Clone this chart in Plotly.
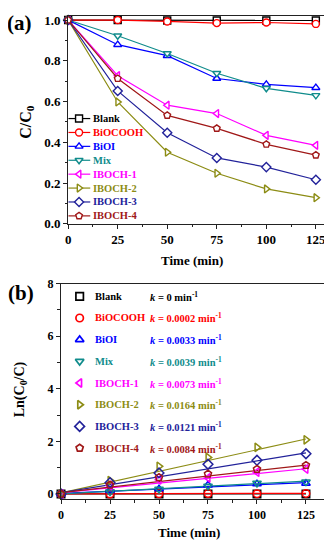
import plotly.graph_objects as go

# ---------------- data ----------------
time_min = [0, 25, 50, 75, 100, 125]
series_names = ["Blank", "BiOCOOH", "BiOI", "Mix", "IBOCH-1", "IBOCH-2", "IBOCH-3", "IBOCH-4"]

# panel (a): C/C0
blank_c   = [1.0, 1.0, 0.998, 0.998, 0.998, 0.998]
biocooh_c = [1.0, 1.0, 0.993, 0.985, 0.988, 0.981]
bioi_c    = [1.0, 0.879, 0.825, 0.713, 0.684, 0.668]
mix_c     = [1.0, 0.923, 0.836, 0.739, 0.665, 0.630]
iboch1_c  = [1.0, 0.727, 0.582, 0.541, 0.434, 0.385]
iboch2_c  = [1.0, 0.598, 0.351, 0.248, 0.171, 0.128]
iboch3_c  = [1.0, 0.652, 0.447, 0.323, 0.278, 0.216]
iboch4_c  = [1.0, 0.713, 0.532, 0.468, 0.390, 0.337]

# panel (b): Ln(C0/C)
blank_ln   = [0.0, 0.0, 0.0, 0.0, 0.0, 0.0]
biocooh_ln = [0.0, 0.0, 0.01, 0.015, 0.012, 0.02]
bioi_ln    = [0.0, 0.13, 0.19, 0.34, 0.38, 0.40]
mix_ln     = [0.0, 0.08, 0.18, 0.30, 0.41, 0.46]
iboch1_ln  = [0.0, 0.32, 0.54, 0.61, 0.83, 0.95]
iboch2_ln  = [0.0, 0.51, 1.05, 1.39, 1.77, 2.06]
iboch3_ln  = [0.0, 0.43, 0.80, 1.13, 1.28, 1.53]
iboch4_ln  = [0.0, 0.34, 0.63, 0.76, 0.94, 1.09]

# linear fits
fit_time  = [0, 125]
fit_start = [0.0, 0.0, 0.02, 0.0, 0.05, 0.04, 0.05, 0.05]
fit_end   = [0.0, 0.025, 0.43, 0.49, 0.96, 2.09, 1.56, 1.10]
k_values  = ["0", "0.0002", "0.0033", "0.0039", "0.0073", "0.0164", "0.0121", "0.0084"]

c_series = [blank_c, biocooh_c, bioi_c, mix_c, iboch1_c, iboch2_c, iboch3_c, iboch4_c]
ln_series = [blank_ln, biocooh_ln, bioi_ln, mix_ln, iboch1_ln, iboch2_ln, iboch3_ln, iboch4_ln]

# ---------------- styles ----------------
colors = ["#000000", "#FF0000", "#0000FF", "#108C8C", "#FF00FF", "#8C8C14", "#22229A", "#A01818"]
symbols = ["square", "circle", "triangle-up", "triangle-down",
           "triangle-left", "triangle-right", "diamond", "pentagon"]
FONT = "Liberation Serif"
OFF = 8                      # page body margin
W, H = 332 - OFF, 550 - OFF  # figure size that fits in the window

def fx(px):  # window pixel -> paper fraction (x)
    return (px - OFF) / W

def fy(py):  # window pixel -> paper fraction (y)
    return 1 - (py - OFF) / H

fig = go.Figure()

# panel (a)
for name, ys, col, sym in zip(series_names, c_series, colors, symbols):
    fig.add_trace(go.Scatter(
        x=time_min, y=ys, mode="lines+markers", name=name,
        line=dict(color=col, width=1.2),
        marker=dict(symbol=sym, size=7, color="white", line=dict(color=col, width=1.4)),
        xaxis="x", yaxis="y", showlegend=False, cliponaxis=False))

# panel (b): fit lines first, then points
for name, s, e, col in zip(series_names, fit_start, fit_end, colors):
    fig.add_trace(go.Scatter(
        x=fit_time, y=[s, e], mode="lines", line=dict(color=col, width=1.2),
        xaxis="x2", yaxis="y2", showlegend=False, hoverinfo="skip"))
for name, ys, col, sym in zip(series_names, ln_series, colors, symbols):
    fig.add_trace(go.Scatter(
        x=time_min, y=ys, mode="markers", name=name,
        marker=dict(symbol=sym, size=7.5, color="rgba(255,255,255,0)", line=dict(color=col, width=1.5)),
        xaxis="x2", yaxis="y2", showlegend=False, cliponaxis=False))

# ---------------- legends (window-pixel overlay) ----------------
annotations = []
shapes = []

legA_y0, legA_dy = 114.5, 14.3
legA_x0, legA_x1, legA_xm, legA_xt = 66, 88, 76.7, 88.5
legB_y0, legB_dy = 297.3, 22.3
legB_xm, legB_xt, legB_xk = 77.3, 91.0, 146.5

for i, (name, col, k) in enumerate(zip(series_names, colors, k_values)):
    ya = legA_y0 + i * legA_dy
    yb = legB_y0 + i * legB_dy
    shapes.append(dict(type="line", xref="x3", yref="y3", x0=legA_x0, x1=legA_x1, y0=ya, y1=ya,
                       line=dict(color=col, width=1.2), layer="below"))
    annotations.append(dict(xref="x3", yref="y3", x=legA_xt, y=ya, xanchor="left", yanchor="middle",
                            text=name, showarrow=False,
                            font=dict(family=FONT, size=10.5, color=col, weight="bold")))
    annotations.append(dict(xref="x3", yref="y3", x=legB_xt, y=yb, xanchor="left", yanchor="middle",
                            text=name, showarrow=False,
                            font=dict(family=FONT, size=10.5, color=col, weight="bold")))
    annotations.append(dict(xref="x3", yref="y3", x=legB_xk, y=yb, xanchor="left", yanchor="middle",
                            text=f"<i>k</i> = {k} min<sup>-1</sup>", showarrow=False,
                            font=dict(family=FONT, size=10.5, color=col, weight="bold")))
    fig.add_trace(go.Scatter(x=[legA_xm], y=[ya], mode="markers",
                             marker=dict(symbol=symbols[i], size=7, color="white",
                                         line=dict(color=col, width=1.4)),
                             xaxis="x3", yaxis="y3", showlegend=False, hoverinfo="skip"))
    fig.add_trace(go.Scatter(x=[legB_xm], y=[yb], mode="markers",
                             marker=dict(symbol=symbols[i], size=7.5, color="white",
                                         line=dict(color=col, width=1.7)),
                             xaxis="x3", yaxis="y3", showlegend=False, hoverinfo="skip"))

# titles
title_font = dict(family=FONT, size=13, color="black", weight="bold")
annotations += [
    dict(xref="x3", yref="y3", x=17, y=16, text="(a)", showarrow=False,
         font=dict(family=FONT, size=21, color="black", weight="bold")),
    dict(xref="x3", yref="y3", x=18, y=294, text="(b)", showarrow=False,
         font=dict(family=FONT, size=21, color="black", weight="bold")),
    dict(xref="x3", yref="y3", x=24, y=118, text="C/C<sub>0</sub>", textangle=-90, showarrow=False,
         font=dict(family=FONT, size=16, color="black", weight="bold")),
    dict(xref="x3", yref="y3", x=191, y=260, text="Time (min)", showarrow=False, font=title_font),
    dict(xref="x3", yref="y3", x=17, y=393, text="Ln(C<sub>0</sub>/C)", textangle=-90, showarrow=False,
         font=dict(family=FONT, size=14, color="black", weight="bold")),
    dict(xref="x3", yref="y3", x=188, y=540, text="Time (min)", showarrow=False, font=title_font),
]

def axis_common(size):
    return dict(showline=True, mirror=True, linecolor="#222", linewidth=1.2,
                ticks="outside", ticklen=4, tickwidth=1.2, tickcolor="#222",
                showgrid=False, zeroline=False,
                tickfont=dict(family=FONT, size=size, color="black", weight="bold"))

fig.update_layout(
    width=W, height=H, margin=dict(l=0, r=0, t=0, b=0),
    paper_bgcolor="white", plot_bgcolor="rgba(0,0,0,0)",
    showlegend=False,
    xaxis=dict(domain=[fx(65.7), fx(325.7)], range=[0, 130], anchor="y",
               tickvals=[0, 25, 50, 75, 100, 125],
               minor=dict(dtick=12.5, tick0=0, ticklen=2.5, ticks="outside", tickcolor="#222"),
               **axis_common(13)),
    yaxis=dict(domain=[fy(222.7), fy(9)], range=[0, 1.02], anchor="x",
               tickvals=[0, 0.2, 0.4, 0.6, 0.8, 1.0], tickformat=".1f",
               minor=dict(dtick=0.1, tick0=0, ticklen=2.5, ticks="outside", tickcolor="#222"),
               **axis_common(13)),
    xaxis2=dict(domain=[fx(58.5), fx(325.5)], range=[0, 135], anchor="y2",
                tickvals=[0, 25, 50, 75, 100, 125],
                minor=dict(dtick=12.5, tick0=0, ticklen=2.5, ticks="outside", tickcolor="#222"),
                **axis_common(12)),
    yaxis2=dict(domain=[fy(506), fy(284.3)], range=[-0.2, 8], anchor="x2",
                tickvals=[0, 2, 4, 6, 8],
                minor=dict(dtick=1, tick0=0, ticklen=2.5, ticks="outside", tickcolor="#222"),
                **axis_common(12)),
    xaxis3=dict(domain=[0, 1], range=[OFF, OFF + W], visible=False, anchor="y3", fixedrange=True),
    yaxis3=dict(domain=[0, 1], range=[OFF + H, OFF], visible=False, anchor="x3", fixedrange=True),
    annotations=annotations, shapes=shapes,
)

fig.write_html("out.html")
